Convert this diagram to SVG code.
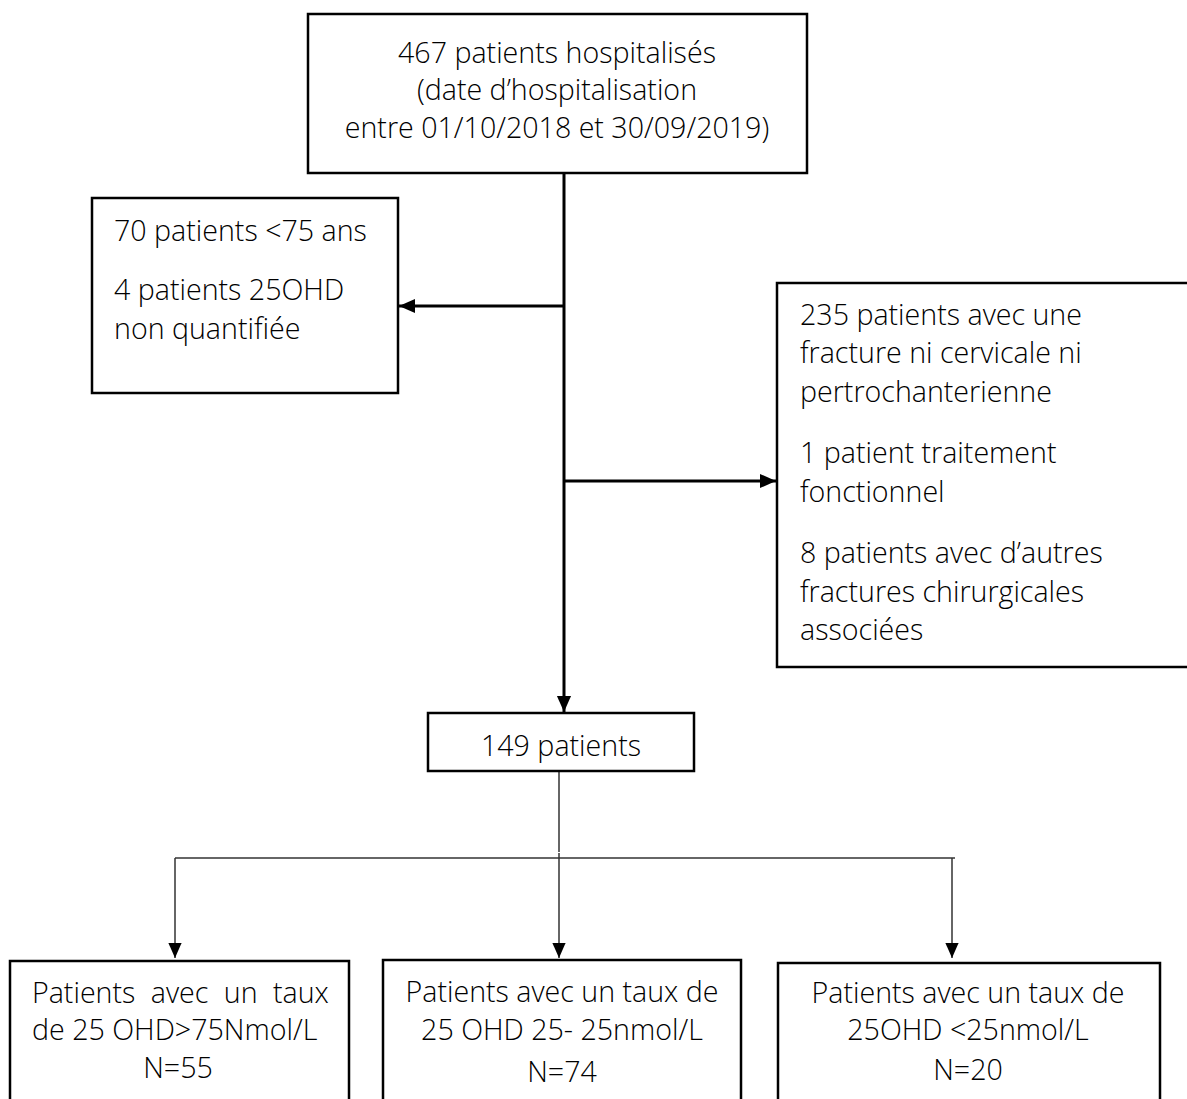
<svg xmlns="http://www.w3.org/2000/svg" width="1187" height="1099" viewBox="0 0 1187 1099">
<style>
text{font-family:"Open Sans","Noto Sans",sans-serif;font-weight:300;font-size:28.6px;fill:#000}
.c{text-anchor:middle}
.box{fill:#fff;stroke:#000;stroke-width:2.5}
.main{stroke:#000;stroke-width:3;fill:none}
.thin{stroke:#333;stroke-width:1.5;fill:none}
</style>
<defs>
<marker id="ah" viewBox="0 0 10 10" refX="10" refY="5" markerWidth="16" markerHeight="16" markerUnits="userSpaceOnUse" orient="auto"><path d="M0,0.6 L10,5 L0,9.4 Z" fill="#000"/></marker>
<marker id="ah2" viewBox="0 0 10 10" refX="10" refY="5" markerWidth="15" markerHeight="15" markerUnits="userSpaceOnUse" orient="auto"><path d="M0,0.6 L10,5 L0,9.4 Z" fill="#000"/></marker>
</defs>
<g id="connectors">
<line class="main" x1="564" y1="173" x2="564" y2="712" marker-end="url(#ah)"/>
<line class="main" x1="564" y1="306" x2="399" y2="306" marker-end="url(#ah)"/>
<line class="main" x1="564" y1="481" x2="776" y2="481" marker-end="url(#ah)"/>
<line class="thin" x1="559" y1="771" x2="559" y2="852"/>
<line class="thin" x1="175" y1="858" x2="955" y2="858"/>
<line class="thin" x1="175" y1="858" x2="175" y2="958" marker-end="url(#ah2)"/>
<line class="thin" x1="559" y1="853" x2="559" y2="958" marker-end="url(#ah2)"/>
<line class="thin" x1="952" y1="858" x2="952" y2="958" marker-end="url(#ah2)"/>
</g>
<g id="n-top">
<rect class="box" x="308" y="14" width="499" height="159"/>
<text class="c" x="557" y="63">467 patients hospitalisés</text>
<text class="c" x="557" y="100">(date d’hospitalisation</text>
<text class="c" x="557" y="138">entre 01/10/2018 et 30/09/2019)</text>
</g>
<g id="n-excl1">
<rect class="box" x="92" y="198" width="306" height="195"/>
<text x="114" y="241">70 patients &lt;75 ans</text>
<text x="114" y="300">4 patients 25OHD</text>
<text x="114" y="339">non quantifiée</text>
</g>
<g id="n-excl2">
<rect class="box" x="777" y="283" width="420" height="384"/>
<text x="800" y="325">235 patients avec une</text>
<text x="800" y="363">fracture ni cervicale ni</text>
<text x="800" y="402">pertrochanterienne</text>
<text x="800" y="463">1 patient traitement</text>
<text x="800" y="502">fonctionnel</text>
<text x="800" y="563">8 patients avec d’autres</text>
<text x="800" y="602">fractures chirurgicales</text>
<text x="800" y="640">associées</text>
</g>
<g id="n-149">
<rect class="box" x="428" y="713" width="266" height="58"/>
<text class="c" x="561" y="756">149 patients</text>
</g>
<g id="n-high">
<rect class="box" x="10" y="961" width="339" height="160"/>
<text x="32" y="1003" word-spacing="8">Patients avec un taux</text>
<text x="32" y="1040">de 25 OHD&gt;75Nmol/L</text>
<text class="c" x="178" y="1078">N=55</text>
</g>
<g id="n-mid">
<rect class="box" x="383" y="960" width="358" height="160"/>
<text class="c" x="562" y="1002">Patients avec un taux de</text>
<text class="c" x="562" y="1040">25 OHD 25- 25nmol/L</text>
<text class="c" x="562" y="1082">N=74</text>
</g>
<g id="n-low">
<rect class="box" x="778" y="963" width="382" height="160"/>
<text class="c" x="968" y="1003">Patients avec un taux de</text>
<text class="c" x="968" y="1040">25OHD &lt;25nmol/L</text>
<text class="c" x="968" y="1080">N=20</text>
</g>
</svg>
